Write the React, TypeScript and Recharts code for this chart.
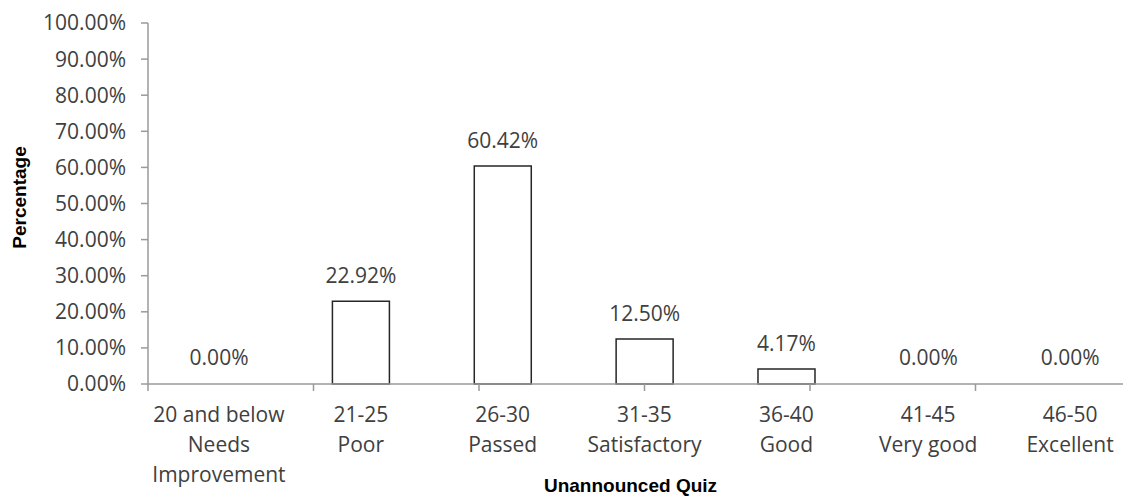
import React from "react";
import { BarChart, Bar, XAxis, YAxis, LabelList, Label, Cell } from "recharts";

const categories = [
  "20 and below\nNeeds\nImprovement",
  "21-25\nPoor",
  "26-30\nPassed",
  "31-35\nSatisfactory",
  "36-40\nGood",
  "41-45\nVery good",
  "46-50\nExcellent",
];
const percentages = [0, 22.92, 60.42, 12.5, 4.17, 0, 0];
const yTicks = [0, 10, 20, 30, 40, 50, 60, 70, 80, 90, 100];
const boundaryTicks = [0, 1, 2, 3, 4, 5, 6, 7];

const data = categories.map((c, i) => ({ category: c, value: percentages[i] }));

const AXIS_COLOR = "#9a9a9a";
const TEXT_COLOR = "#404040";
const TICK_FONT = "'Open Sans', sans-serif";
const TITLE_FONT = "'Liberation Sans', Arial, sans-serif";

const fmt = (v: any) => Number(v).toFixed(2) + "%";

const CatTick = (props: any) => {
  const { x, y, payload } = props;
  const lines = String(payload.value).split("\n");
  return (
    <g>
      {lines.map((ln: string, i: number) => (
        <text
          key={i}
          x={x}
          y={y + 29 + i * 30}
          textAnchor="middle"
          dominantBaseline="central"
          fontFamily={TICK_FONT}
          fontSize={21}
          fill={TEXT_COLOR}
        >
          {ln}
        </text>
      ))}
    </g>
  );
};

const XTitle = (props: any) => {
  const vb = props.viewBox || {};
  const cx = vb.x + vb.width / 2 - 14;
  const cy = vb.y + vb.height - 6;
  return (
    <text
      x={cx}
      y={cy}
      textAnchor="middle"
      fontFamily={TITLE_FONT}
      fontWeight="bold"
      fontSize={19}
      fill="#000"
    >
      Unannounced Quiz
    </text>
  );
};

const YTitle = (props: any) => {
  const vb = props.viewBox || {};
  const cx = vb.x + 11;
  const cy = vb.y + vb.height / 2 - 6;
  return (
    <text
      x={cx}
      y={cy}
      transform={`rotate(-90 ${cx} ${cy})`}
      textAnchor="middle"
      dominantBaseline="central"
      fontFamily={TITLE_FONT}
      fontWeight="bold"
      fontSize={19}
      fill="#000"
    >
      Percentage
    </text>
  );
};

export default function App() {
  return (
    <div style={{ width: 1123, overflow: "hidden", background: "#fff" }}>
      <BarChart
        width={1150}
        height={490}
        data={data}
        margin={{ top: 15, right: 17, left: 0, bottom: 0 }}
        barCategoryGap="30%"
      >
        <XAxis
          xAxisId="a_grid"
          type="number"
          domain={[0, 7]}
          ticks={boundaryTicks}
          allowDataOverflow
          height={1}
          tickSize={7}
          tick={() => <g />}
          axisLine={{ stroke: AXIS_COLOR, strokeWidth: 1.5 }}
          tickLine={{ stroke: AXIS_COLOR, strokeWidth: 1.5 }}
        />
        <XAxis
          xAxisId="b_cat"
          dataKey="category"
          height={113}
          interval={0}
          axisLine={false}
          tickLine={false}
          tickSize={0}
          tickMargin={0}
          tick={<CatTick />}
        >
          <Label content={<XTitle />} />
        </XAxis>
        <YAxis
          width={140}
          domain={[0, 100]}
          ticks={yTicks}
          interval={0}
          tickSize={7}
          tickMargin={15}
          tickFormatter={fmt}
          axisLine={{ stroke: AXIS_COLOR, strokeWidth: 1.5 }}
          tickLine={{ stroke: AXIS_COLOR, strokeWidth: 1.5 }}
          tick={{ fontFamily: TICK_FONT, fontSize: 21, fill: TEXT_COLOR }}
        >
          <Label content={<YTitle />} />
        </YAxis>
        <Bar
          xAxisId="b_cat"
          dataKey="value"
          fill="#ffffff"
          stroke="#262626"
          strokeWidth={1.5}
          minPointSize={1}
          isAnimationActive={false}
        >
          {data.map((d, i) => (
            <Cell key={i} stroke={d.value === 0 ? "none" : "#262626"} fill={d.value === 0 ? "none" : "#ffffff"} />
          ))}
          <LabelList
            dataKey="value"
            position="top"
            offset={18}
            formatter={fmt}
            style={{ fontFamily: TICK_FONT, fontSize: 21, fill: TEXT_COLOR }}
          />
        </Bar>
      </BarChart>
    </div>
  );
}
